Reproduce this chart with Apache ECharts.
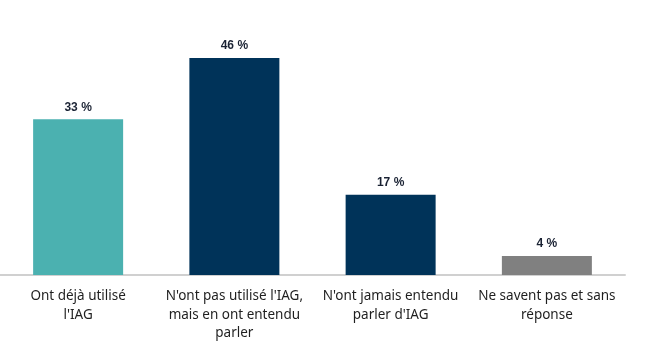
<!DOCTYPE html>
<html><head><meta charset="utf-8">
<script src="https://cdn.jsdelivr.net/npm/echarts@6/dist/echarts.min.js"></script>
<style>html,body{margin:0;padding:0;background:#fff}#c{width:649px;height:355px}</style>
</head><body><div id="c"></div>
<script>
const categories = ["Ont déjà utilisé\nl'IAG", "N'ont pas utilisé l'IAG,\nmais en ont entendu\nparler", "N'ont jamais entendu\nparler d'IAG", "Ne savent pas et sans\nréponse"];
const values = [33, 46, 17, 4];
const colors = ['#4bb1b0', '#003359', '#003359', '#808080'];

const chart = echarts.init(document.getElementById('c'));
chart.setOption({
  animation: false,
  grid: {left: 0, width: 625, top: 39, bottom: 80, containLabel: false},
  xAxis: {
    type: 'category', data: categories,
    axisLine: {lineStyle: {color: '#d0d0d0', width: 2}},
    axisTick: {show: false},
    axisLabel: {interval: 0, color: '#1f1f1f', fontFamily: 'Noto Sans', fontSize: 13.5, lineHeight: 18.5, margin: 12}
  },
  yAxis: {type: 'value', min: 0, max: 50, show: false, splitLine: {show: false}},
  series: [{
    type: 'bar', barWidth: 90,
    data: values.map((v, i) => ({value: v, itemStyle: {color: colors[i]}})),
    label: {show: true, position: 'top', distance: 6, formatter: '{c} %', fontFamily: 'Liberation Sans', fontWeight: 'bold', fontSize: 12, color: '#1a2233'}
  }]
});
</script></body></html>
